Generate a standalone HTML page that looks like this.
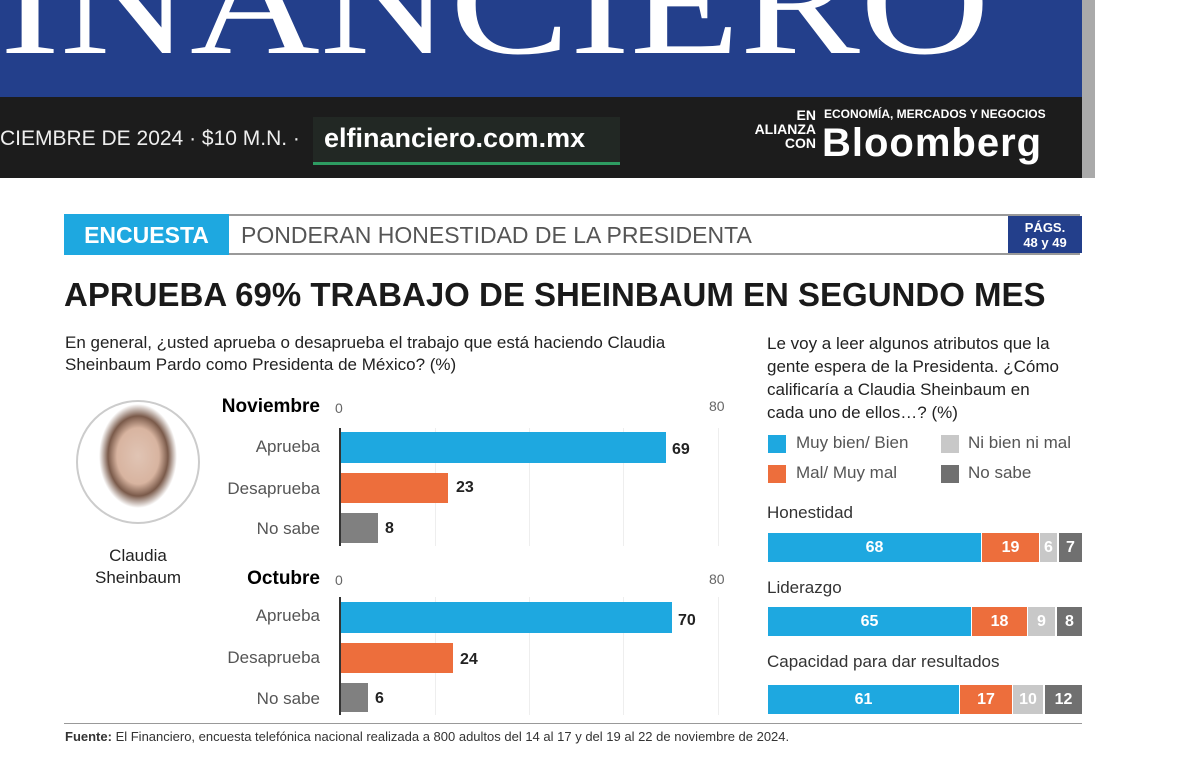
<!DOCTYPE html><html><head><meta charset="utf-8"><style>
body{margin:0;width:1179px;height:765px;background:#fff;position:relative;overflow:hidden;font-family:"Liberation Sans",sans-serif;}
.a{position:absolute}
.b{position:absolute;color:#fff;font-weight:bold;font-size:16px;text-align:center;line-height:29px}
.lbl{position:absolute;font-size:17px;color:#555;text-align:right;width:120px}
.val{position:absolute;font-size:16px;font-weight:bold;color:#222}
</style></head><body>
<div class="a" style="left:0;top:0;width:1082px;height:97px;background:#233f8b"></div>
<div class="a" style="left:0;top:-72px;font-family:'Liberation Serif',serif;font-size:150px;color:#fff;letter-spacing:0;white-space:nowrap;line-height:150px;transform:scaleX(1.2);transform-origin:0 0">INANCIERO</div>
<div class="a" style="left:1082px;top:0;width:13px;height:178px;background:#aaa"></div>
<div class="a" style="left:0;top:97px;width:1082px;height:81px;background:#1c1c1c"></div>
<div class="a" style="left:0;top:127px;color:#eee;font-size:21px;white-space:nowrap">CIEMBRE DE 2024 · $10 M.N. ·</div>
<div class="a" style="left:313px;top:117px;width:307px;height:45px;background:#222824;border-bottom:3px solid #2e9c62"></div>
<div class="a" style="left:324px;top:123px;color:#fff;font-size:27px;font-weight:bold">elfinanciero.com.mx</div>
<div class="a" style="left:730px;top:108px;color:#fff;font-size:14px;font-weight:bold;text-align:right;line-height:14px;width:86px">EN<br>ALIANZA<br>CON</div>
<div class="a" style="left:824px;top:107px;color:#fff;font-size:12px;font-weight:bold">ECONOMÍA, MERCADOS Y NEGOCIOS</div>
<div class="a" style="left:822px;top:121px;color:#fff;font-size:40px;font-weight:bold;letter-spacing:1px">Bloomberg</div>

<div class="a" style="left:64px;top:214px;width:1016px;height:37px;border-top:2px solid #999;border-bottom:2px solid #999"></div>
<div class="a" style="left:64px;top:214px;width:165px;height:41px;background:#1ea8e0;color:#fff;font-weight:bold;font-size:23px;line-height:42px;text-align:center">ENCUESTA</div>
<div class="a" style="left:241px;top:222px;font-size:23px;color:#555">PONDERAN HONESTIDAD DE LA PRESIDENTA</div>
<div class="a" style="left:1008px;top:216px;width:74px;height:37px;background:#233f8b;color:#fff;font-weight:bold;font-size:13px;text-align:center;line-height:15px;padding-top:4px;box-sizing:border-box">PÁGS.<br>48 y 49</div>

<div class="a" style="left:64px;top:276px;font-size:33px;font-weight:bold;color:#1a1a1a;letter-spacing:0">APRUEBA 69% TRABAJO DE SHEINBAUM EN SEGUNDO MES</div>
<div class="a" style="left:65px;top:332px;font-size:17px;color:#222;line-height:22px">En general, ¿usted aprueba o desaprueba el trabajo que está haciendo Claudia<br>Sheinbaum Pardo como Presidenta de México? (%)</div>

<div class="a" style="left:76px;top:400px;width:120px;height:120px;border-radius:50%;border:2px solid #ccc;background:radial-gradient(ellipse 30px 40px at 50% 45%,#e0c4b4 0,#d8b4a0 70%,#7a5a4a 100%,#fff 130%),#fff;background-repeat:no-repeat"></div>
<div class="a" style="left:76px;top:545px;width:124px;text-align:center;font-size:17px;color:#222;line-height:22px">Claudia<br>Sheinbaum</div>

<div class="a" style="left:200px;top:396px;width:120px;text-align:right;font-size:19px;font-weight:bold">Noviembre</div>
<div class="a" style="left:335px;top:400px;font-size:14px;color:#666">0</div>
<div class="a" style="left:709px;top:398px;font-size:14px;color:#666">80</div>
<div class="a" style="left:435px;top:428px;width:1px;height:118px;background:#eee"></div>
<div class="a" style="left:529px;top:428px;width:1px;height:118px;background:#eee"></div>
<div class="a" style="left:623px;top:428px;width:1px;height:118px;background:#eee"></div>
<div class="a" style="left:718px;top:428px;width:1px;height:118px;background:#eee"></div>
<div class="a" style="left:340px;top:432px;width:326px;height:31px;background:#1ea8e0"></div>
<div class="a" style="left:340px;top:473px;width:108px;height:30px;background:#ed6e3c"></div>
<div class="a" style="left:340px;top:513px;width:38px;height:30px;background:#808080"></div>
<div class="a" style="left:339px;top:428px;width:2px;height:118px;background:#333"></div>
<div class="lbl" style="left:200px;top:437px">Aprueba</div><div class="val" style="left:672px;top:441px">69</div>
<div class="lbl" style="left:200px;top:479px">Desaprueba</div><div class="val" style="left:456px;top:479px">23</div>
<div class="lbl" style="left:200px;top:519px">No sabe</div><div class="val" style="left:385px;top:520px">8</div>

<div class="a" style="left:200px;top:568px;width:120px;text-align:right;font-size:19px;font-weight:bold">Octubre</div>
<div class="a" style="left:335px;top:572px;font-size:14px;color:#666">0</div>
<div class="a" style="left:709px;top:571px;font-size:14px;color:#666">80</div>
<div class="a" style="left:435px;top:597px;width:1px;height:118px;background:#eee"></div>
<div class="a" style="left:529px;top:597px;width:1px;height:118px;background:#eee"></div>
<div class="a" style="left:623px;top:597px;width:1px;height:118px;background:#eee"></div>
<div class="a" style="left:718px;top:597px;width:1px;height:118px;background:#eee"></div>
<div class="a" style="left:340px;top:602px;width:332px;height:31px;background:#1ea8e0"></div>
<div class="a" style="left:340px;top:643px;width:113px;height:30px;background:#ed6e3c"></div>
<div class="a" style="left:340px;top:683px;width:28px;height:29px;background:#808080"></div>
<div class="a" style="left:339px;top:597px;width:2px;height:118px;background:#333"></div>
<div class="lbl" style="left:200px;top:606px">Aprueba</div><div class="val" style="left:678px;top:612px">70</div>
<div class="lbl" style="left:200px;top:648px">Desaprueba</div><div class="val" style="left:460px;top:651px">24</div>
<div class="lbl" style="left:200px;top:689px">No sabe</div><div class="val" style="left:375px;top:690px">6</div>

<div class="a" style="left:767px;top:332px;font-size:17px;color:#222;line-height:23px">Le voy a leer algunos atributos que la<br>gente espera de la Presidenta. ¿Cómo<br>calificaría a Claudia Sheinbaum en<br>cada uno de ellos…? (%)</div>
<div class="a" style="left:768px;top:435px;width:18px;height:18px;background:#1ea8e0"></div>
<div class="a" style="left:796px;top:433px;font-size:17px;color:#555">Muy bien/ Bien</div>
<div class="a" style="left:941px;top:435px;width:18px;height:18px;background:#c8c8c8"></div>
<div class="a" style="left:968px;top:433px;font-size:17px;color:#555">Ni bien ni mal</div>
<div class="a" style="left:768px;top:465px;width:18px;height:18px;background:#ed6e3c"></div>
<div class="a" style="left:796px;top:463px;font-size:17px;color:#555">Mal/ Muy mal</div>
<div class="a" style="left:941px;top:465px;width:18px;height:18px;background:#707070"></div>
<div class="a" style="left:968px;top:463px;font-size:17px;color:#555">No sabe</div>

<div class="a" style="left:767px;top:503px;font-size:17px;color:#333">Honestidad</div>
<div class="b" style="left:768px;top:533px;width:213px;background:#1ea8e0">68</div>
<div class="b" style="left:982px;top:533px;width:57px;background:#ed6e3c">19</div>
<div class="b" style="left:1040px;top:533px;width:17px;background:#c8c8c8">6</div>
<div class="b" style="left:1059px;top:533px;width:23px;background:#707070">7</div>

<div class="a" style="left:767px;top:578px;font-size:17px;color:#333">Liderazgo</div>
<div class="b" style="left:768px;top:607px;width:203px;background:#1ea8e0">65</div>
<div class="b" style="left:972px;top:607px;width:55px;background:#ed6e3c">18</div>
<div class="b" style="left:1028px;top:607px;width:27px;background:#c8c8c8">9</div>
<div class="b" style="left:1057px;top:607px;width:25px;background:#707070">8</div>

<div class="a" style="left:767px;top:652px;font-size:17px;color:#333">Capacidad para dar resultados</div>
<div class="b" style="left:768px;top:685px;width:191px;background:#1ea8e0">61</div>
<div class="b" style="left:960px;top:685px;width:52px;background:#ed6e3c">17</div>
<div class="b" style="left:1013px;top:685px;width:30px;background:#c8c8c8">10</div>
<div class="b" style="left:1045px;top:685px;width:37px;background:#707070">12</div>

<div class="a" style="left:64px;top:723px;width:1018px;height:1px;background:#999"></div>
<div class="a" style="left:65px;top:729px;font-size:13px;color:#333;white-space:nowrap"><b>Fuente:</b> El Financiero, encuesta telefónica nacional realizada a 800 adultos del 14 al 17 y del 19 al 22 de noviembre de 2024.</div>
</body></html>
